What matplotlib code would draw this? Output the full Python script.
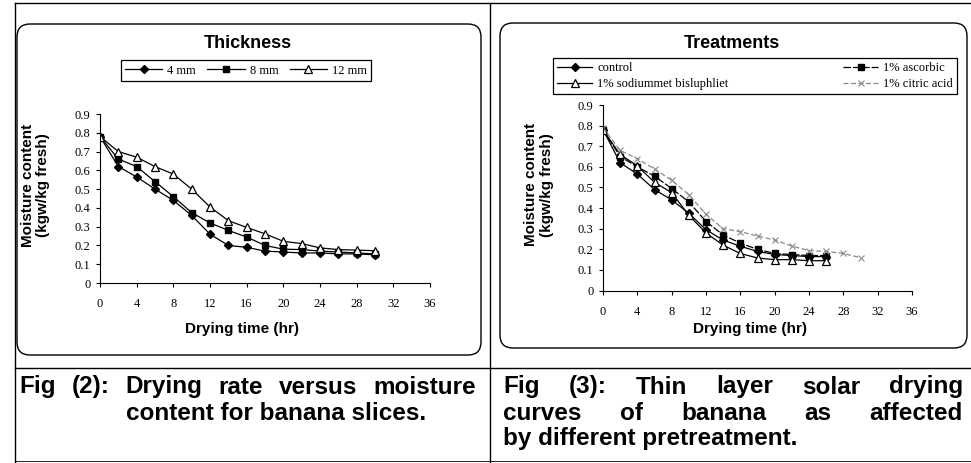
import matplotlib
matplotlib.use("Agg")
import matplotlib.pyplot as plt
from matplotlib.patches import FancyBboxPatch
from matplotlib.lines import Line2D

W, H = 971, 463

# Fig (2): effect of slice thickness
time_thick = [0, 2, 4, 6, 8, 10, 12, 14, 16, 18, 20, 22, 24, 26, 28, 30]
mm4 = [0.78, 0.62, 0.565, 0.50, 0.44, 0.36, 0.26, 0.20, 0.19, 0.17, 0.165, 0.16, 0.16, 0.155, 0.155, 0.15]
mm8 = [0.78, 0.66, 0.62, 0.54, 0.46, 0.375, 0.32, 0.28, 0.245, 0.20, 0.18, 0.178, 0.17, 0.165, 0.16, 0.155]
mm12 = [0.78, 0.70, 0.67, 0.62, 0.58, 0.50, 0.405, 0.332, 0.296, 0.262, 0.222, 0.21, 0.187, 0.178, 0.175, 0.172]

# Fig (3): effect of pretreatment
time_treat = [0, 2, 4, 6, 8, 10, 12, 14, 16, 18, 20, 22, 24, 26]
control = [0.78, 0.62, 0.565, 0.49, 0.44, 0.375, 0.295, 0.245, 0.215, 0.19, 0.175, 0.17, 0.165, 0.165]
ascorbic = [0.78, 0.65, 0.60, 0.555, 0.495, 0.43, 0.335, 0.27, 0.23, 0.20, 0.18, 0.175, 0.17, 0.17]
sodium = [0.78, 0.66, 0.605, 0.525, 0.475, 0.365, 0.28, 0.22, 0.18, 0.158, 0.15, 0.15, 0.145, 0.145]
time_citric = [0, 2, 4, 6, 8, 10, 12, 14, 16, 18, 20, 22, 24, 26, 28, 30]
citric = [0.79, 0.68, 0.64, 0.59, 0.535, 0.465, 0.37, 0.30, 0.286, 0.265, 0.245, 0.216, 0.194, 0.19, 0.18, 0.16]

x_ticks = [0, 4, 8, 12, 16, 20, 24, 28, 32, 36]
y_ticks = [0, 0.1, 0.2, 0.3, 0.4, 0.5, 0.6, 0.7, 0.8, 0.9]
y_labels = ['0', '0.1', '0.2', '0.3', '0.4', '0.5', '0.6', '0.7', '0.8', '0.9']

plt.rcParams['font.family'] = ['Liberation Sans', 'DejaVu Sans']
serif = 'Liberation Serif'

fig = plt.figure(figsize=(W / 100, H / 100), dpi=100)


def frect(x0, y0, x1, y1):
    # pixel box (y from top) -> figure fraction rect
    return [x0 / W, 1 - y1 / H, (x1 - x0) / W, (y1 - y0) / H]


def inch(x, y):
    return x / 100, (H - y) / 100


def hline(x0, x1, y, lw=1.0):
    fig.add_artist(Line2D([x0 / 100, x1 / 100], [(H - y) / 100] * 2,
                          transform=fig.dpi_scale_trans, color='black', lw=lw))


def vline(x, y0, y1, lw=1.0):
    fig.add_artist(Line2D([x / 100] * 2, [(H - y0) / 100, (H - y1) / 100],
                          transform=fig.dpi_scale_trans, color='black', lw=lw))


def rbox(x0, y0, x1, y1):
    fig.add_artist(FancyBboxPatch(inch(x0, y1), (x1 - x0) / 100, (y1 - y0) / 100,
                                  boxstyle='round,pad=0,rounding_size=0.13',
                                  transform=fig.dpi_scale_trans, fill=False,
                                  ec='black', lw=1.0))


def style_axes(ax, xlab_pos, ylab_pos):
    ax.set_xlim(0, 36)
    ax.set_ylim(0, 0.9)
    ax.set_xticks(x_ticks)
    ax.set_yticks(y_ticks)
    ax.set_yticklabels(y_labels)
    ax.spines['top'].set_visible(False)
    ax.spines['right'].set_visible(False)
    ax.patch.set_alpha(0)
    ax.tick_params(axis='both', direction='out', length=3, width=0.8,
                   labelsize=9, labelfontfamily=serif)
    ax.tick_params(axis='x', pad=8)
    ax.tick_params(axis='y', pad=4)
    ax.set_xlabel('Drying time (hr)', fontsize=11, fontweight='bold')
    ax.set_ylabel('Moisture content\n(kgw/kg fresh)', fontsize=11,
                  fontweight='bold', linespacing=1.15)
    ax.xaxis.set_label_coords(*xlab_pos)
    ax.yaxis.set_label_coords(*ylab_pos)


# table frame
hline(15, 971, 3)
hline(15, 971, 368)
hline(15, 971, 461, lw=0.6)
vline(15, 3, 463)
vline(490, 3, 463)

# panel boxes
rbox(17, 24, 481, 355)
rbox(500, 23, 967, 348)

# ---- left chart ----
ax1 = fig.add_axes(frect(100, 114, 430, 283))
l4, = ax1.plot(time_thick, mm4, color='black', lw=0.9, marker='D', ms=4.5)
l8, = ax1.plot(time_thick, mm8, color='black', lw=0.9, marker='s', ms=4.5)
l12, = ax1.plot(time_thick, mm12, color='black', lw=0.9, marker='^', ms=6,
                mfc='white', mec='black', mew=0.9)
style_axes(ax1, (0.43, -0.23), (-0.15, 0.58))

fig.text(248 / W, 1 - 43 / H, 'Thickness', fontsize=13, fontweight='bold',
         ha='center', va='center')
leg1 = fig.legend([l4, l8, l12], ['4 mm', '8 mm', '12 mm'], loc='center',
                  bbox_to_anchor=(246 / W, 1 - 70.5 / H), ncol=3,
                  prop={'family': serif, 'size': 9}, frameon=True,
                  fancybox=False, edgecolor='black', framealpha=1,
                  handlelength=3.0, handletextpad=0.4, columnspacing=0.9,
                  borderpad=0.35)
leg1.get_frame().set_linewidth(0.9)

# ---- right chart ----
ax2 = fig.add_axes(frect(603, 105, 912, 290.6))
c1, = ax2.plot(time_treat, control, color='black', lw=0.9, marker='D', ms=4.5)
c2, = ax2.plot(time_treat, ascorbic, color='black', lw=0.9, ls=(0, (6, 1.5)),
               marker='s', ms=4.5)
c3, = ax2.plot(time_treat, sodium, color='black', lw=0.9, marker='^', ms=6,
               mfc='white', mec='black', mew=0.9)
c4, = ax2.plot(time_citric, citric, color='#8a8a8a', lw=0.9, ls=(0, (4, 2)),
               marker='x', ms=4, mew=0.8)
style_axes(ax2, (0.476, -0.17), (-0.16, 0.57))

fig.text(732 / W, 1 - 43 / H, 'Treatments', fontsize=13, fontweight='bold',
         ha='center', va='center')
leg2 = fig.legend([c1, c3, c2, c4],
                  ['control', '1% sodiummet bisluphliet', '1% ascorbic', '1% citric acid'],
                  loc='center', bbox_to_anchor=frect(547, 55, 963, 97), mode='expand',
                  ncol=2, prop={'family': serif, 'size': 9}, frameon=True,
                  fancybox=False, edgecolor='black', framealpha=1,
                  handlelength=2.8, handletextpad=0.4, labelspacing=0.3,
                  borderpad=0.3)
leg2.get_frame().set_linewidth(0.9)

# ---- captions ----
cap_size = 17.5
cap_kw = dict(fontsize=cap_size, fontweight='bold', ha='left', va='center',
              family='Liberation Sans', transform=fig.dpi_scale_trans)
renderer = fig.canvas.get_renderer()


def caption_line(words, x0, x1, y, justify=True):
    texts = [fig.text(0, 0, w, **cap_kw) for w in words]
    widths = [t.get_window_extent(renderer).width for t in texts]
    if justify and len(words) > 1:
        gap = (x1 - x0 - sum(widths)) / (len(words) - 1)
    else:
        gap = 0.28 * cap_size * 100 / 72
    xs = []
    x = x0
    for t, w in zip(texts, widths):
        t.set_position(inch(x, y))
        xs.append(x)
        x += w + gap
    return xs


xs = caption_line(['Fig', '(2):', 'Drying', 'rate', 'versus', 'moisture'], 19, 476, 387)
caption_line(['content for banana slices.'], xs[2], xs[2], 413, justify=False)
caption_line(['Fig', '(3):', 'Thin', 'layer', 'solar', 'drying'], 503, 963, 387)
caption_line(['curves', 'of', 'banana', 'as', 'affected'], 503, 963, 413)
caption_line(['by different pretreatment.'], 503, 503, 439, justify=False)

fig.savefig('out.png', dpi=100)
